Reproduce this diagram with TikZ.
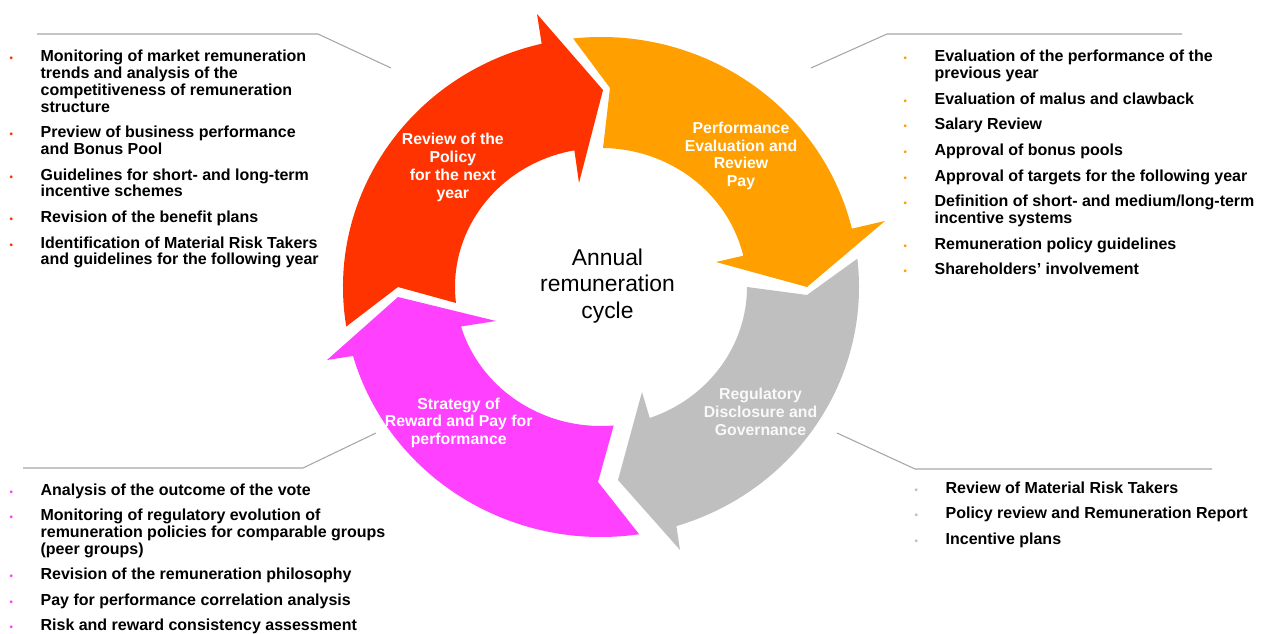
\documentclass[tikz,border=0pt]{standalone}
\usepackage{fontspec}
\setmainfont{Liberation Sans}
\usepackage{xcolor}
\definecolor{cycred}{HTML}{FF3300}
\definecolor{cycorange}{HTML}{FF9F00}
\definecolor{cycgray}{HTML}{BFBFBF}
\definecolor{cycpink}{HTML}{FF40FF}
\definecolor{leadgray}{HTML}{A6A6A6}
\newcommand\listdot[1]{\textcolor{#1}{\fontsize{5.5}{5.5}\selectfont\textbullet}}
\newcommand\itemgap{\\[5.1pt]}
\tikzset{
    x=0.02cm, y=0.02cm,
    list/.style = {inner sep=0pt, anchor=base west, font=\fontsize{9.1}{9.5}\selectfont\bfseries},
    stage/.style = {inner sep=0pt, align=center, text=white, font=\fontsize{9}{10.1}\selectfont\bfseries},
    hub/.style = {inner sep=0pt, align=center, font=\fontsize{13}{15.25}\selectfont},
    leader/.style = {leadgray, line width=0.6pt}
}

\begin{document}
\begin{tikzpicture}
    \fill[white] (0,0) rectangle (1265,633);
    \useasboundingbox (0,0) rectangle (1265,633);

    % the four arrows of the cycle
    \begin{scope}[shift={(601,346)}]
      \fill[cycred] (189.1:258 and 250) arc[start angle=189.1, end angle=103.3, x radius=258, y radius=250]
        -- (-64,273) -- (2,197) -- (-22,104) -- (100.5:146 and 139)
        arc[start angle=100.5, end angle=186.6, x radius=146, y radius=139]
        -- (-203,0) -- cycle;
      \fill[cycorange] (96.2:258 and 250) arc[start angle=96.2, end angle=13.5, x radius=258, y radius=250]
        -- (284,66) -- (206,0) -- (115,25) -- (13:146 and 139)
        arc[start angle=13, end angle=89.2, x radius=146, y radius=139]
        -- (9,199) -- cycle;
      \fill[cycgray] (6.5:258 and 250) arc[start angle=6.5, end angle=-73, x radius=258, y radius=250]
        -- (79,-263) -- (17,-193) -- (41,-105) -- (-70.5:146 and 139)
        arc[start angle=-70.5, end angle=0, x radius=146, y radius=139]
        -- (206,-8) -- cycle;
      \fill[cycpink] (-81.5:258 and 250) arc[start angle=-81.5, end angle=-164, x radius=258, y radius=250]
        -- (-274,-73) -- (-203,-10) -- (-105,-34) -- (-163.5:146 and 139)
        arc[start angle=-163.5, end angle=-85, x radius=146, y radius=139]
        -- (-3,-195) -- cycle;
    \end{scope}

    \node[hub] (hub) at (607.5,347) {Annual\\remuneration\\cycle};
    \node[stage] (policy) at (452.8,465.5) {Review of the\\Policy\\for the next\\year};
    \node[stage] (perf) at (741,477) {Performance\\Evaluation and\\Review\\Pay};
    \node[stage, text=white!95!gray] (regul) at (760.5,221) {Regulatory\\Disclosure and\\Governance};
    \node[stage] (strat) at (458.7,210.3) {Strategy of\\Reward and Pay for\\performance};

    % leader lines
    \coordinate (tlA) at (37,599);   \coordinate (tlB) at (318,599);  \coordinate (tlC) at (391,565);
    \coordinate (trA) at (1182,599); \coordinate (trB) at (887,599);  \coordinate (trC) at (811,565);
    \coordinate (blA) at (23,165);   \coordinate (blB) at (303,165);  \coordinate (blC) at (376,200);
    \coordinate (brA) at (1212,164); \coordinate (brB) at (915,164);  \coordinate (brC) at (837,200);
    \draw[leader] (tlA) -- (tlB) -- (tlC);
    \draw[leader] (trA) -- (trB) -- (trC);
    \draw[leader] (blA) -- (blB) -- (blC);
    \draw[leader] (brA) -- (brB) -- (brC);

    % bullet lists
    \node[list] (policylist) at (9.3,571) {\begin{tabular}[t]{@{}p{0.62cm}@{}l@{}}
      \listdot{cycred} & Monitoring of market remuneration\\
       & trends and analysis of the\\
       & competitiveness of remuneration\\
       & structure\itemgap
      \listdot{cycred} & Preview of business performance\\
       & and Bonus Pool\itemgap
      \listdot{cycred} & Guidelines for short- and long-term\\
       & incentive schemes\itemgap
      \listdot{cycred} & Revision of the benefit plans\itemgap
      \listdot{cycred} & Identification of Material Risk Takers\\
       & and guidelines for the following year
    \end{tabular}};
    \node[list] (perflist) at (903.3,571) {\begin{tabular}[t]{@{}p{0.62cm}@{}l@{}}
      \listdot{cycorange} & Evaluation of the performance of the\\
       & previous year\itemgap
      \listdot{cycorange} & Evaluation of malus and clawback\itemgap
      \listdot{cycorange} & Salary Review\itemgap
      \listdot{cycorange} & Approval of bonus pools\itemgap
      \listdot{cycorange} & Approval of targets for the following year\itemgap
      \listdot{cycorange} & Definition of short- and medium/long-term\\
       & incentive systems\itemgap
      \listdot{cycorange} & Remuneration policy guidelines\itemgap
      \listdot{cycorange} & Shareholders’ involvement
    \end{tabular}};
    \node[list] (stratlist) at (9.3,138) {\begin{tabular}[t]{@{}p{0.62cm}@{}l@{}}
      \listdot{cycpink} & Analysis of the outcome of the vote\itemgap
      \listdot{cycpink} & Monitoring of regulatory evolution of\\
       & remuneration policies for comparable groups\\
       & (peer groups)\itemgap
      \listdot{cycpink} & Revision of the remuneration philosophy\itemgap
      \listdot{cycpink} & Pay for performance correlation analysis\itemgap
      \listdot{cycpink} & Risk and reward consistency assessment
    \end{tabular}};
    \node[list] (regullist) at (914.3,140) {\begin{tabular}[t]{@{}p{0.62cm}@{}l@{}}
      \listdot{cycgray} & Review of Material Risk Takers\itemgap
      \listdot{cycgray} & Policy review and Remuneration Report\itemgap
      \listdot{cycgray} & Incentive plans
    \end{tabular}};
\end{tikzpicture}
\end{document}
